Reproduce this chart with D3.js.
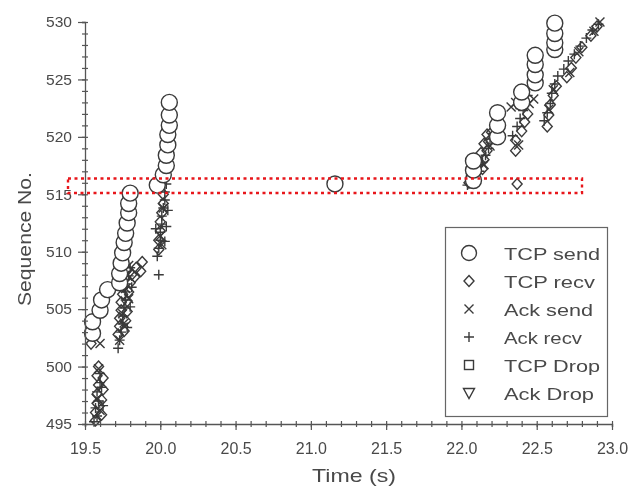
<!DOCTYPE html>
<html>
<head>
<meta charset="utf-8">
<script src="https://cdn.jsdelivr.net/npm/d3@7"></script>
<style>
  body { margin: 0; background: #fff; }
  text { font-family: "Liberation Sans", Arial, sans-serif; fill: #4a4a4a; }
</style>
</head>
<body>
<svg id="chart" width="634" height="491"></svg>
<script>
// values as [time (s), sequence no.]
var tcpSend = [
  [19.55, 502.9], [19.55, 503.9], [19.60, 504.9], [19.61, 505.8], [19.65, 506.7],
  [19.73, 507.3], [19.73, 508.1], [19.74, 509.0], [19.75, 509.9], [19.76, 510.8],
  [19.77, 511.6], [19.78, 512.5], [19.79, 513.4], [19.79, 514.2], [19.80, 515.1],
  [19.98, 515.8], [20.02, 516.7], [20.04, 517.5], [20.04, 518.4], [20.05, 519.3],
  [20.05, 520.2], [20.06, 521.0], [20.06, 521.9], [20.06, 523.0],
  [21.16, 515.9],
  [22.08, 516.2], [22.08, 517.1], [22.08, 517.9],
  [22.24, 520.0], [22.24, 521.0], [22.24, 522.1],
  [22.40, 523.0], [22.40, 523.9],
  [22.49, 524.7], [22.49, 525.4], [22.49, 526.3], [22.49, 527.1],
  [22.62, 527.6], [22.62, 528.2], [22.62, 529.0], [22.62, 529.9]
];
var tcpRecv = [
  [19.57, 495.3], [19.57, 496.0], [19.58, 496.8], [19.58, 497.6], [19.59, 498.4],
  [19.58, 499.2], [19.59, 500.0], [19.54, 502.0],
  [19.61, 495.8], [19.61, 497.1], [19.62, 498.0], [19.62, 499.0],
  [19.72, 502.8], [19.73, 503.5], [19.73, 504.2], [19.74, 504.9], [19.74, 505.6],
  [19.75, 506.3], [19.76, 507.0], [19.77, 507.7], [19.78, 508.4],
  [19.76, 503.1], [19.77, 504.0], [19.78, 504.8], [19.78, 505.7], [19.79, 506.5],
  [19.80, 507.3], [19.81, 508.0],
  [19.83, 507.8], [19.84, 508.6], [19.87, 508.3], [19.88, 509.1],
  [19.99, 510.2], [19.99, 511.0], [20.00, 511.8], [20.00, 512.6], [20.01, 513.4],
  [20.02, 514.2], [20.02, 515.0],
  [22.05, 516.0], [22.07, 516.6], [22.14, 517.2], [22.15, 518.0], [22.17, 518.8],
  [22.18, 519.6], [22.20, 520.4], [22.37, 515.9],
  [22.12, 517.8], [22.13, 518.6], [22.15, 519.4], [22.17, 520.2],
  [22.36, 518.8], [22.36, 519.7], [22.40, 520.5], [22.42, 521.3], [22.44, 522.0],
  [22.57, 520.9], [22.58, 521.9], [22.59, 522.8], [22.61, 523.6], [22.63, 524.4],
  [22.70, 525.2], [22.73, 526.0], [22.76, 526.9], [22.80, 527.8], [22.86, 528.8],
  [22.90, 529.6]
];
var ackSend = [
  [19.60, 502.0], [19.58, 497.2], [19.59, 499.8], [19.60, 496.2],
  [19.73, 502.3], [19.75, 504.6], [19.77, 506.8], [19.79, 508.8],
  [19.76, 503.8], [19.79, 505.9],
  [20.00, 511.4], [20.02, 513.8], [20.01, 510.6],
  [22.06, 516.3], [22.15, 517.6], [22.19, 519.2], [22.22, 520.6],
  [22.33, 522.6], [22.36, 523.0], [22.39, 522.8], [22.42, 523.2], [22.45, 522.9],
  [22.48, 523.3], [22.38, 519.3], [22.58, 522.4], [22.61, 524.1],
  [22.72, 525.6], [22.78, 527.4], [22.88, 529.2], [22.92, 530.0]
];
var ackRecv = [
  [19.56, 495.2], [19.58, 495.7], [19.57, 496.4], [19.59, 497.0], [19.58, 497.8],
  [19.60, 498.6], [19.60, 499.4], [19.62, 496.6], [19.61, 498.2],
  [19.72, 501.6], [19.73, 502.3], [19.74, 503.0], [19.75, 503.7], [19.75, 504.4],
  [19.76, 505.1], [19.77, 505.8], [19.77, 506.5], [19.78, 507.2], [19.79, 507.9],
  [19.80, 508.6], [19.78, 503.4], [19.80, 505.2], [19.81, 506.9],
  [19.99, 508.0], [19.98, 509.6], [19.99, 510.3], [20.00, 511.0], [20.00, 511.7],
  [20.01, 512.4], [20.01, 513.1], [20.02, 513.8], [20.03, 514.5], [20.03, 515.2],
  [20.04, 515.9], [20.03, 510.9], [20.04, 512.2], [20.05, 513.6], [19.97, 512.0],
  [22.04, 515.8], [22.06, 516.5], [22.12, 517.0], [22.14, 517.8], [22.16, 518.4],
  [22.18, 519.0], [22.19, 519.8], [22.21, 520.3], [22.23, 520.9],
  [22.34, 520.1], [22.37, 520.9], [22.39, 521.6], [22.41, 522.3], [22.44, 523.6],
  [22.55, 521.4], [22.57, 522.1], [22.59, 522.9], [22.60, 523.8], [22.62, 524.6],
  [22.64, 525.3], [22.68, 525.9], [22.71, 526.6], [22.75, 527.2], [22.79, 527.9],
  [22.83, 528.6], [22.87, 529.3], [22.91, 529.8]
];
var tcpDrop = [];
var ackDrop = [];

var xTicks = [19.5, 20.0, 20.5, 21.0, 21.5, 22.0, 22.5, 23.0];
var yTicks = [495, 500, 505, 510, 515, 520, 525, 530];
var legendLabels = ["TCP send", "TCP recv", "Ack send", "Ack recv", "TCP Drop", "Ack Drop"];
var legendTextWidths = [96, 91, 89, 78, 96, 90];

var svg = d3.select("#chart");

var defs = svg.append("defs");
defs.append("filter").attr("id", "soft")
  .append("feGaussianBlur").attr("stdDeviation", 0.6);

var x = d3.scaleLinear().domain([19.5, 23.0]).range([85, 612]);
var y = d3.scaleLinear().domain([495, 530]).range([424, 22]);

var g = svg.append("g").attr("filter", "url(#soft)");

// marker shapes, centred on 0,0
var shapes = {
  circle: function(sel) { sel.append("circle").attr("r", 8).attr("fill", "#fff"); },
  diamond: function(sel) { sel.append("path").attr("d", "M0,-5.5L5,0L0,5.5L-5,0Z").attr("fill", "none"); },
  cross: function(sel) { sel.append("path").attr("d", "M-4.5,-4.5L4.5,4.5M-4.5,4.5L4.5,-4.5").attr("fill", "none"); },
  plus: function(sel) { sel.append("path").attr("d", "M-5,0H5M0,-5V5").attr("fill", "none"); },
  square: function(sel) { sel.append("rect").attr("x", -4.5).attr("y", -4.5).attr("width", 9).attr("height", 9).attr("fill", "none"); },
  triangle: function(sel) { sel.append("path").attr("d", "M-5.5,-4.5H5.5L0,5.5Z").attr("fill", "none"); }
};

function drawSeries(data, shape) {
  var sorted = data.slice().sort(function(a, b) { return a[1] - b[1]; });
  g.append("g")
    .attr("stroke", "#3a3a3a")
    .attr("stroke-width", 1.4)
    .selectAll("g")
    .data(sorted)
    .enter().append("g")
    .attr("transform", function(d) { return "translate(" + x(d[0]) + "," + y(d[1]) + ")"; })
    .call(shapes[shape]);
}

drawSeries(ackRecv, "plus");
drawSeries(ackSend, "cross");
drawSeries(tcpRecv, "diamond");
drawSeries(tcpDrop, "square");
drawSeries(ackDrop, "triangle");
drawSeries(tcpSend, "circle");

// axes
var minorX = d3.range(195, 231).map(function(v) { return v / 10; });
var minorY = d3.range(495, 531);

var xAxisG = g.append("g").attr("transform", "translate(0,424)");
xAxisG.call(d3.axisBottom(x).tickValues(minorX).tickSize(3).tickFormat(""))
  .selectAll(".tick line").attr("y1", -3).attr("y2", 3);
var xMajor = g.append("g").attr("transform", "translate(0,424)")
  .call(d3.axisBottom(x).tickValues(xTicks).tickSize(6).tickPadding(13).tickFormat(d3.format(".1f")));
xMajor.select(".domain").remove();

var yAxisG = g.append("g").attr("transform", "translate(85,0)");
yAxisG.call(d3.axisLeft(y).tickValues(minorY).tickSize(3).tickFormat(""))
  .selectAll(".tick line").attr("x1", -3).attr("x2", 3);
var yMajor = g.append("g").attr("transform", "translate(85,0)")
  .call(d3.axisLeft(y).tickValues(yTicks).tickSize(7).tickPadding(6));
yMajor.select(".domain").remove();

g.selectAll(".domain").attr("stroke", "#555").attr("stroke-width", 1.3);
g.selectAll(".tick line").attr("stroke", "#555").attr("stroke-width", 1.2);
xMajor.selectAll("text").attr("font-size", 16).attr("fill", "#555")
  .attr("font-family", "Liberation Sans, Arial, sans-serif");
yMajor.selectAll("text").attr("font-size", 15).attr("fill", "#555")
  .attr("font-family", "Liberation Sans, Arial, sans-serif")
  .attr("textLength", 26).attr("lengthAdjust", "spacingAndGlyphs");

g.append("text")
  .attr("x", 312).attr("y", 482)
  .attr("font-size", 19)
  .attr("textLength", 84).attr("lengthAdjust", "spacingAndGlyphs")
  .text("Time (s)");

g.append("text")
  .attr("transform", "translate(31,306) rotate(-90)")
  .attr("font-size", 18)
  .attr("textLength", 134).attr("lengthAdjust", "spacingAndGlyphs")
  .text("Sequence No.");

// legend
var legend = g.append("g");
legend.append("rect")
  .attr("x", 445.5).attr("y", 227.5).attr("width", 162).attr("height", 189)
  .attr("fill", "#fff").attr("stroke", "#666").attr("stroke-width", 1.2);

var legendShapes = ["circle", "diamond", "cross", "plus", "square", "triangle"];
var rows = legend.selectAll("g.item")
  .data(legendLabels)
  .enter().append("g")
  .attr("class", "item")
  .attr("transform", function(d, i) { return "translate(0," + (253 + i * 28) + ")"; });

rows.each(function(d, i) {
  var r = d3.select(this);
  var m = r.append("g").attr("transform", "translate(469,0)")
    .attr("stroke", "#3a3a3a").attr("stroke-width", 1.4);
  if (legendShapes[i] === "circle") {
    m.append("circle").attr("r", 7.5).attr("fill", "#fff");
  } else {
    m.call(shapes[legendShapes[i]]);
  }
  r.append("text")
    .attr("x", 504).attr("y", 6.5)
    .attr("font-size", 17)
    .attr("textLength", legendTextWidths[i]).attr("lengthAdjust", "spacingAndGlyphs")
    .text(d);
});

// highlighted region
svg.append("rect")
  .attr("x", 68).attr("y", 178.5).attr("width", 514).attr("height", 14.5)
  .attr("fill", "none").attr("stroke", "#e8161b").attr("stroke-width", 2.4)
  .attr("stroke-dasharray", "3,3.5");
</script>
</body>
</html>
